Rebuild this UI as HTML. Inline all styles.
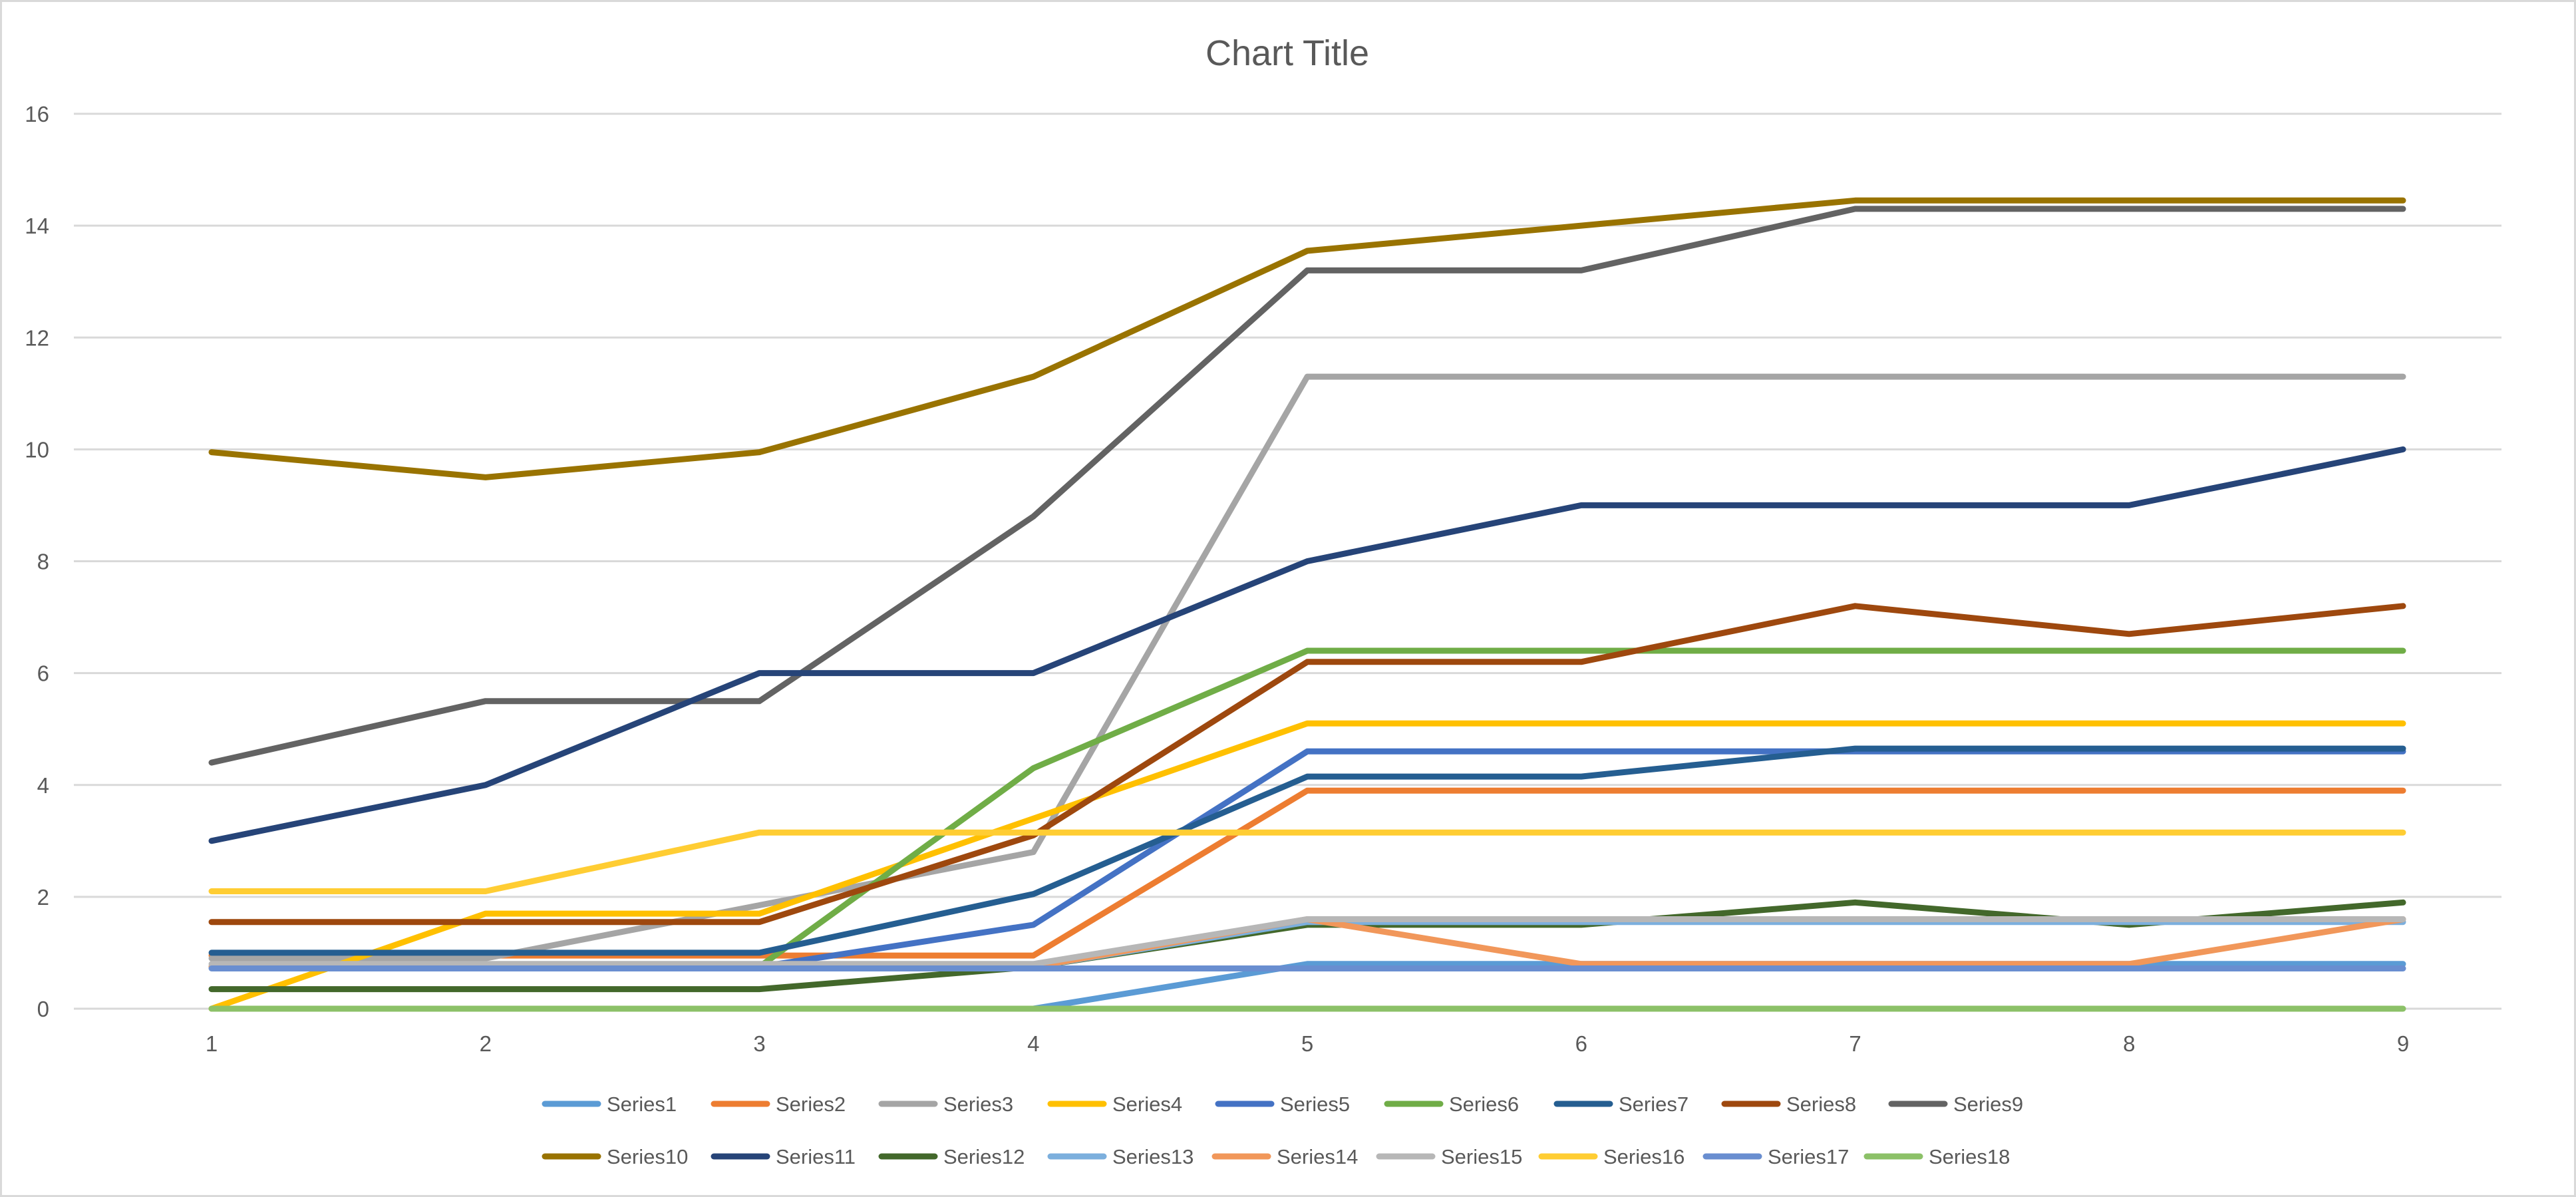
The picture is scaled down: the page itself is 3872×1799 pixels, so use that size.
<!DOCTYPE html>
<html><head><meta charset="utf-8"><style>
html,body{margin:0;padding:0;background:#fff;}
svg{display:block;}
</style></head><body>
<svg id="chart" width="3872" height="1799" xmlns="http://www.w3.org/2000/svg">
<rect x="1.5" y="1.5" width="3869" height="1796" fill="#fff" stroke="#D9D9D9" stroke-width="3"/>
<text x="1935" y="98" text-anchor="middle" font-family="Liberation Sans, sans-serif" font-size="54" fill="#595959">Chart Title</text>
<g id="grid"></g><g id="yticks"></g><g id="xticks"></g><g id="lines"></g><g id="legend"></g>
</svg>
<script>
const categories = [1,2,3,4,5,6,7,8,9];
const yTicks = [0,2,4,6,8,10,12,14,16];
const seriesNames = ["Series1","Series2","Series3","Series4","Series5","Series6","Series7","Series8","Series9","Series10","Series11","Series12","Series13","Series14","Series15","Series16","Series17","Series18"];
const seriesColors = ["#5B9BD5","#ED7D31","#A5A5A5","#FFC000","#4472C4","#70AD47","#255E91","#9E480E","#636363","#997300","#264478","#43682B","#7CAFDD","#F1975A","#B7B7B7","#FFCD33","#698ED0","#8CC168"];
const s1 = [0,0,0,0,0.8,0.8,0.8,0.8,0.8];
const s2 = [0.95,0.95,0.95,0.95,3.9,3.9,3.9,3.9,3.9];
const s3 = [0.9,0.9,1.85,2.8,11.3,11.3,11.3,11.3,11.3];
const s4 = [0,1.7,1.7,3.4,5.1,5.1,5.1,5.1,5.1];
const s5 = [0.75,0.75,0.75,1.5,4.6,4.6,4.6,4.6,4.6];
const s6 = [0.75,0.75,0.75,4.3,6.4,6.4,6.4,6.4,6.4];
const s7 = [1.0,1.0,1.0,2.05,4.15,4.15,4.65,4.65,4.65];
const s8 = [1.55,1.55,1.55,3.1,6.2,6.2,7.2,6.7,7.2];
const s9 = [4.4,5.5,5.5,8.8,13.2,13.2,14.3,14.3,14.3];
const s10 = [9.95,9.5,9.95,11.3,13.55,14.0,14.45,14.45,14.45];
const s11 = [3,4,6,6,8,9,9,9,10];
const s12 = [0.35,0.35,0.35,0.75,1.5,1.5,1.9,1.5,1.9];
const s13 = [0.75,0.75,0.75,0.75,1.55,1.55,1.55,1.55,1.55];
const s14 = [0.75,0.75,0.75,0.75,1.6,0.8,0.8,0.8,1.6];
const s15 = [0.8,0.8,0.8,0.8,1.6,1.6,1.6,1.6,1.6];
const s16 = [2.1,2.1,3.15,3.15,3.15,3.15,3.15,3.15,3.15];
const s17 = [0.72,0.72,0.72,0.72,0.72,0.72,0.72,0.72,0.72];
const s18 = [0,0,0,0,0,0,0,0,0];
const seriesValues = [s1,s2,s3,s4,s5,s6,s7,s8,s9,s10,s11,s12,s13,s14,s15,s16,s17,s18];

const NS = "http://www.w3.org/2000/svg";
const X0 = 318, X1 = 3612, Y0 = 1516, Y1 = 171, YMAX = 16;
function xScale(i){ return X0 + (X1 - X0) * i / (categories.length - 1); }
function yScale(v){ return Y0 - (Y0 - Y1) * v / YMAX; }
function mk(tag, attrs, parent){
  const el = document.createElementNS(NS, tag);
  for (const k in attrs) el.setAttribute(k, attrs[k]);
  parent.appendChild(el); return el;
}
const font = "Liberation Sans, sans-serif";
const grid = document.getElementById('grid');
const yt = document.getElementById('yticks');
yTicks.forEach(t => {
  const y = yScale(t);
  const l = mk('line', {x1:111, x2:3760, y1:y, y2:y, stroke:'#D9D9D9', 'stroke-width':3}, grid);
  
  
  const tx = mk('text', {x:74, y:y+12, 'text-anchor':'end', 'font-family':font, 'font-size':33, fill:'#595959'}, yt);
  tx.textContent = t;
  
  
});
const xt = document.getElementById('xticks');
categories.forEach((c, i) => {
  const tx = mk('text', {x:xScale(i), y:1580, 'text-anchor':'middle', 'font-family':font, 'font-size':33, fill:'#595959'}, xt);
  tx.textContent = c;
  
  
});
const lines = document.getElementById('lines');
seriesValues.forEach((vals, si) => {
  const pts = vals.map((v, i) => xScale(i).toFixed(1) + ',' + yScale(v).toFixed(1)).join(' ');
  const pl = mk('polyline', {points:pts, fill:'none', stroke:seriesColors[si], 'stroke-width':9, 'stroke-linejoin':'round', 'stroke-linecap':'round'}, lines);
  
  
});
const legend = document.getElementById('legend');
const legendX = [815,1069,1321,1575,1827,2081,2336,2588,2839, 815,1069,1321,1575,1822,2069,2313,2560,2802];
seriesNames.forEach((n, si) => {
  const row = si < 9 ? 0 : 1;
  const x = legendX[si], y = row === 0 ? 1659 : 1738;
  const g = mk('g', {}, legend);
  
  
  mk('line', {x1:x+4, x2:x+84, y1:y, y2:y, stroke:seriesColors[si], 'stroke-width':9, 'stroke-linecap':'round'}, g);
  const tx = mk('text', {x:x+97, y:y+11, 'font-family':font, 'font-size':31, fill:'#595959'}, g);
  tx.textContent = n;
});
</script>
</body></html>
